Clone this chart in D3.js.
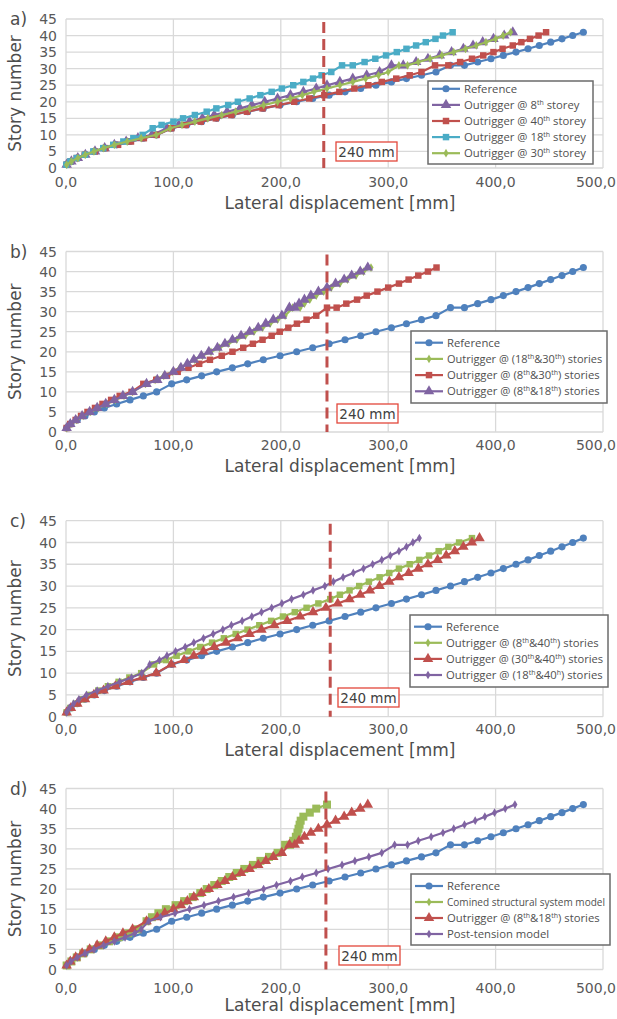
<!DOCTYPE html>
<html lang="en">
<head>
<meta charset="utf-8">
<title>Lateral displacement per story</title>
<script src="https://cdn.jsdelivr.net/npm/d3@7"></script>
<style>
  body { margin: 0; background: #fff; }
  text { font-family: "DejaVu Sans", sans-serif; fill: #595959; }
  .legend text { font-family: "Open Sans", sans-serif; }
  .grid line { stroke: #d9d9d9; stroke-width: 1.3; }
  .series path.line { fill: none; stroke-width: 2.2; stroke-linejoin: round; }
</style>
</head>
<body>
<div id="vis"></div>
<script>
// story numbers as plotted (a, b, d skip 11 and repeat 31; c skips 11 only)
var storiesA = [1,2,3,4,5,6,7,8,9,10,12,13,14,15,16,17,18,19,20,21,22,23,24,25,26,27,28,29,31,31,32,33,34,35,36,37,38,39,40,41];
var storiesC = [1,2,3,4,5,6,7,8,9,10,12,13,14,15,16,17,18,19,20,21,22,23,24,25,26,27,28,29,30,31,32,33,34,35,36,37,38,39,40,41];

// lateral displacement [mm]
var reference = [0.6,4.6,10.5,17.7,26.4,35.7,47.2,59.6,72,84.4, 98.4,112.4,126.3,140.3,154.9,169.2,183.7,199.3,214.8,229.7,245,259.8,274.4,288.6,303,317,331,344.5, 358,371, 383.3,395.7,407.2,419,430.2,440.7,451.3,461.8,471.8,481.7];

var out8 = [0.6,5,11,18,27,36,45,56,67,80, 94,105,115,127,138,150,162,173,185,197,209,221,233,243,255,267,280,292, 303,314, 326,337,348,359,370,379,388,398,408,416];
var out40 = [0.6,4.4,10,17.5,26.8,36.5,48.5,60.5,72.5,84.4, 98,111.5,125.5,139.5,154,168.5,183,198,212.5,226.5,240.5,254.5,268.5,281.5,294,307.5,320,331, 343.6,356, 367,378,388.5,398,406.5,416,424,432,440,447];
var out18 = [0.3,4,10,17.7,25.4,34.7,44,53.4,62.7,71.4, 80.7,89,100,109,120,131,140,151,160,171,181,191.5,201,211.6,221,230,238,247, 257,267, 278,288,298,308,317,326,335,344,351,360];
var out30 = [0.6,5,11,18,26,35,45,57,70,84, 97,108,120,132,145,158,171,184,197,209,220,231,243,255,267,279,291,300, 310,318, 328,339,350,361,372,382,391,400,407,414];

var out18and30 = [0.6,4.5,10,16,23,30,38,46,54,62, 74,83,91,99,106,113,120,127,135,143,151,159,167,175,183,190,197,204, 211,218, 222,227,233,240,247,255,262,270,277,284];
var out8and30 = [0.6,4,9,14,20,27,34,42,50,61, 72,84,94,104,114,124,134,145,155,165,174,183,191.5,199,207,215,224,233, 243,252, 261,271,280,290,300,310,319,328,337,345];
var out8and18 = [0.6,4,9,15,22,29,37,45,53,62, 75,85,92,100,107,113,119,126,133,141,148,155,163,171,179,186,193,201, 208,213, 217,222,228,235,243,251,259,266,274,281];

var out8and40 = [0.6,4,9,15,22,30,39,49,59,70, 82,93,103,114,125,136,147,158,169,180,191,202,213,224,235,246,255,264,273,282,292,301,310,320,329,338,347,356,366,378];
var out30and40 = [0.6,4.6,10.5,17.7,26,35,46,58,71,84, 98,110,119,128,138,149,160,171,182,194,206,218,230,242,253,264,274,283,292,301,310,319,328,337,346,354,362,370,378,385];
var out18and40 = [0.6,3,7,12,19,29,39,50,61,70.5, 78,87,94,102,111,119,128,137,146,154,164,173,182,191.5,201,210,221,230,241,249,258,267.5,277,285.5,294,302,310,317,323,329];

var combined = [0.6,5,10,16,23,31,40,49,58,67, 75,80,86,93,102,110,118,125,131,138,145,152,159,166,174,181,189,197, 204,208.6, 211.6,214,215.5,216.5,217.5,218.5,221,227,233,243];
var postTension = [0.6,4.6,10.5,17.7,26,35,45,55,64,70, 77,88,101.5,115,128.5,142,156,170,184,196,209,220,233,244,257,269,282,294, 306,318, 328,340,351,361,371,381,390,399,409,418];

var xTicks = [0,100,200,300,400,500];
var yTicks = [0,5,10,15,20,25,30,35,40,45];
var limitMm = [240, 243, 246, 242];   // where the dashed limit line sits in each panel
var limitLabel = "240 mm";
var xTitle = "Lateral displacement [mm]";
var yTitle = "Story number";

var blue = "#4f81bd", red = "#c0504d", green = "#9bbb59", purple = "#8064a2", cyan = "#4bacc6";

var panels = [
	{ label: "a)", top: 19, bottom: 168, stories: storiesA, tickDy: 19, titleDy: 41,
	  legend: { x: 428, y: 81, w: 165, h: 83, first: 7.8, step: 16.1 }, box: { x: 336, y: 142 },
	  series: [
		{ name: "Reference", values: reference, color: blue, symbol: "circle" },
		{ name: "Outrigger @ 8^th storey", values: out8, color: purple, symbol: "triangle" },
		{ name: "Outrigger @ 40^th storey", values: out40, color: red, symbol: "square" },
		{ name: "Outrigger @ 18^th storey", values: out18, color: cyan, symbol: "square" },
		{ name: "Outrigger @ 30^th storey", values: out30, color: green, symbol: "diamond" }
	  ] },
	{ label: "b)", top: 251.5, bottom: 432, stories: storiesA, tickDy: 17.5, titleDy: 39.5,
	  legend: { x: 411, y: 331, w: 196, h: 72, first: 11.7, step: 16.2 }, box: { x: 337, y: 404 },
	  series: [
		{ name: "Reference", values: reference, color: blue, symbol: "circle" },
		{ name: "Outrigger @ (18^th&30^th) stories", values: out18and30, color: green, symbol: "diamond" },
		{ name: "Outrigger @ (8^th&30^th) stories", values: out8and30, color: red, symbol: "square" },
		{ name: "Outrigger @ (8^th&18^th) stories", values: out8and18, color: purple, symbol: "triangle" }
	  ] },
	{ label: "c)", top: 520.7, bottom: 716.7, stories: storiesC, tickDy: 17, titleDy: 39.5,
	  legend: { x: 410, y: 615, w: 198, h: 72, first: 11.7, step: 16.1 }, box: { x: 338, y: 688 },
	  series: [
		{ name: "Reference", values: reference, color: blue, symbol: "circle" },
		{ name: "Outrigger @ (8^th&40^th) stories", values: out8and40, color: green, symbol: "square", legendSymbol: "diamond" },
		{ name: "Outrigger @ (30^th&40^th) stories", values: out30and40, color: red, symbol: "triangle" },
		{ name: "Outrigger @ (18^th&40^h) stories", values: out18and40, color: purple, symbol: "diamond" }
	  ] },
	{ label: "d)", top: 788.5, bottom: 969.5, stories: storiesA, tickDy: 23, titleDy: 41.5,
	  legend: { x: 411, y: 874, w: 199, h: 71, first: 12, step: 16 }, box: { x: 339, y: 946 },
	  series: [
		{ name: "Reference", values: reference, color: blue, symbol: "circle" },
		{ name: "Comined structural system model", values: combined, color: green, symbol: "bigsquare", legendSymbol: "diamond" },
		{ name: "Outrigger @ (8^th&18^th) stories", values: out8and18, color: red, symbol: "triangle" },
		{ name: "Post-tension model", values: postTension, color: purple, symbol: "diamond" }
	  ] }
];

var symbols = {
	circle: d3.symbol().type(d3.symbolCircle).size(40),
	square: d3.symbol().type(d3.symbolSquare).size(42),
	bigsquare: d3.symbol().type(d3.symbolSquare).size(64),
	triangle: d3.symbol().type(d3.symbolTriangle).size(48),
	diamond: d3.symbol().type(d3.symbolDiamond).size(22)
};

var svg = d3.select("#vis").append("svg")
	.attr("width", 617)
	.attr("height", 1019);

var x = d3.scaleLinear().domain([0, 500]).range([66, 603]);

// write "8^th" style superscripts into a text node
function richText(sel, str) {
	var parts = str.split(/\^([a-z]+)/);
	parts.forEach(function(p, i) {
		if (!p) return;
		if (i % 2 === 1) {
			sel.append("tspan").attr("font-size", 7).attr("dy", -4).text(p);
		} else {
			sel.append("tspan").attr("dy", i > 0 ? 4 : 0).text(p);
		}
	});
}

panels.forEach(function(p, pi) {
	var y = d3.scaleLinear().domain([0, 45]).range([p.bottom, p.top]);
	var g = svg.append("g");

	// grid
	var grid = g.append("g").attr("class", "grid");
	grid.selectAll(".h").data(yTicks).enter().append("line")
		.attr("x1", x(0)).attr("x2", x(500))
		.attr("y1", function(d){ return y(d); }).attr("y2", function(d){ return y(d); });
	grid.selectAll(".v").data(xTicks).enter().append("line")
		.attr("x1", function(d){ return x(d); }).attr("x2", function(d){ return x(d); })
		.attr("y1", y(0)).attr("y2", y(45));

	// tick labels
	g.selectAll(".yl").data(yTicks).enter().append("text")
		.attr("x", 57).attr("y", function(d){ return y(d); })
		.attr("dy", "0.36em").attr("text-anchor", "end")
		.style("font-size", "14px")
		.text(function(d){ return d; });
	g.selectAll(".xl").data(xTicks).enter().append("text")
		.attr("x", function(d){ return d === 500 ? 616 : x(d); }).attr("y", p.bottom + p.tickDy)
		.attr("text-anchor", function(d){ return d === 500 ? "end" : "middle"; })
		.style("font-size", "14px")
		.text(function(d){ return d3.format(".1f")(d).replace(".", ","); });

	// axis titles and panel letter
	g.append("text")
		.attr("x", 340).attr("y", p.bottom + p.titleDy)
		.attr("text-anchor", "middle")
		.style("font-size", "17px").style("fill", "#4d4d4d")
		.text(xTitle);
	g.append("text")
		.attr("transform", "translate(21," + ((p.top + p.bottom) / 2) + ") rotate(-90)")
		.attr("text-anchor", "middle")
		.style("font-size", "17px").style("fill", "#4d4d4d")
		.text(yTitle);
	g.append("text")
		.attr("x", 10).attr("y", p.top + 6)
		.style("font-size", "17px").style("fill", "#4d4d4d")
		.text(p.label);

	// series
	var line = d3.line()
		.x(function(d){ return x(d[0]); })
		.y(function(d){ return y(d[1]); });

	p.series.forEach(function(s) {
		var pts = s.values.map(function(v, i){ return [v, p.stories[i]]; });
		var sg = g.append("g").attr("class", "series");
		sg.append("path").attr("class", "line")
			.attr("d", line(pts))
			.style("stroke", s.color);
		sg.selectAll(".m").data(pts).enter().append("path")
			.attr("d", symbols[s.symbol])
			.attr("transform", function(d){ return "translate(" + x(d[0]) + "," + y(d[1]) + ")"; })
			.style("fill", s.color);
	});

	// 240 mm limit
	g.append("line")
		.attr("x1", x(limitMm[pi])).attr("x2", x(limitMm[pi]))
		.attr("y1", p.top + 3).attr("y2", p.bottom)
		.style("stroke", "#c0504d").style("stroke-width", 3)
		.style("stroke-dasharray", "11,6");
	g.append("rect")
		.attr("x", p.box.x).attr("y", p.box.y)
		.attr("width", 61).attr("height", 19)
		.style("fill", "#fff").style("stroke", "#e2473b").style("stroke-width", 1.3);
	g.append("text")
		.attr("x", p.box.x + 30.5).attr("y", p.box.y + 14.5)
		.attr("text-anchor", "middle")
		.style("font-size", "13.5px").style("fill", "#404040")
		.text(limitLabel);

	// legend
	var L = p.legend;
	var lg = g.append("g").attr("class", "legend")
		.attr("transform", "translate(" + L.x + "," + L.y + ")");
	lg.append("rect")
		.attr("width", L.w).attr("height", L.h)
		.style("fill", "#fff").style("stroke", "#6b6b6b").style("stroke-width", 1.5);
	p.series.forEach(function(s, i) {
		var ry = L.first + i * L.step;
		lg.append("line")
			.attr("x1", 4).attr("x2", 32).attr("y1", ry).attr("y2", ry)
			.style("stroke", s.color).style("stroke-width", 2.2);
		lg.append("path")
			.attr("d", symbols[s.legendSymbol || s.symbol])
			.attr("transform", "translate(18," + ry + ")")
			.style("fill", s.color);
		var fs = 11.3;
		var t = lg.append("text")
			.attr("x", 36).attr("y", ry + 4)
			.style("font-size", fs + "px").style("fill", "#505050");
		richText(t, s.name);
		// shrink an entry that would run past the box edge
		var room = L.w - 41;
		var len = t.node().getComputedTextLength();
		if (len > room) {
			t.style("font-size", (fs * room / len).toFixed(2) + "px");
		}
	});
});
</script>
</body>
</html>
